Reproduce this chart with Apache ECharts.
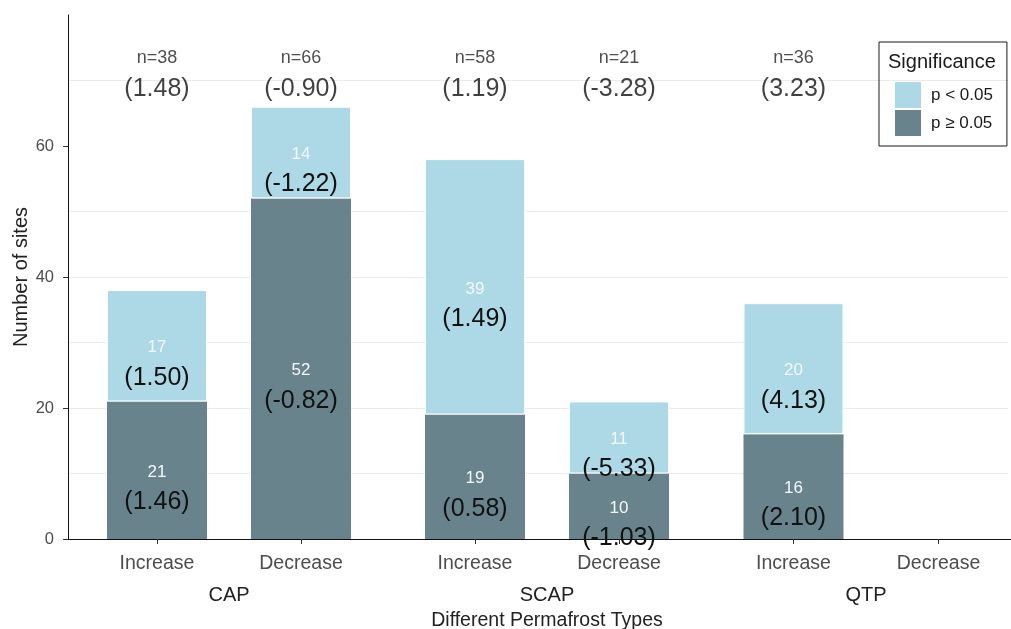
<!DOCTYPE html>
<html>
<head>
<meta charset="utf-8">
<script src="https://cdn.jsdelivr.net/npm/echarts@6/dist/echarts.min.js"></script>
<style>
html,body{margin:0;padding:0;background:#fff;}
#chart{width:1011px;height:629px;}
</style>
</head>
<body>
<div id="chart"></div>
<script>
// ---- data ----
const groups = ['CAP', 'SCAP', 'QTP'];
const directions = ['Increase', 'Decrease'];
const countSig = [[17, 14], [39, 11], [20, null]];      // p < 0.05
const countNonSig = [[21, 52], [19, 10], [16, null]];   // p >= 0.05
const meanSig = [[1.50, -1.22], [1.49, -5.33], [4.13, null]];
const meanNonSig = [[1.46, -0.82], [0.58, -1.03], [2.10, null]];
const totalN = [[38, 66], [58, 21], [36, null]];
const meanAll = [[1.48, -0.90], [1.19, -3.28], [3.23, null]];
const yTicks = [0, 20, 40, 60];
const legendNames = ['p < 0.05', 'p \u2265 0.05'];

// ---- layout / style ----
const FONT = 'Liberation Sans, Arial, sans-serif';
const LIGHT = '#ADD8E6';
const DARK = '#68838B';
const Y_MAX = 80;
const TOP_LABEL_Y = 71;
const TOP = 15, BOTTOM = 90;
const panelLeft = [85, 403, 721];
const panelWidth = [288, 288, 290];

const fmt = v => '(' + v.toFixed(2) + ')';

const grids = [{ left: 68, right: 3, top: TOP, bottom: BOTTOM }];
const xAxes = [{
  gridIndex: 0, type: 'category', data: [''],
  axisLine: { show: true, lineStyle: { color: '#111', width: 1 } },
  axisTick: { show: false }, axisLabel: { show: false }
}];
const yAxes = [{
  gridIndex: 0, type: 'value', min: 0, max: Y_MAX, interval: 20,
  axisLine: { show: true, lineStyle: { color: '#111', width: 1 } },
  axisTick: { show: true, length: 5, lineStyle: { color: '#333' }, customValues: yTicks },
  axisLabel: { customValues: yTicks, fontSize: 16.5, color: '#4d4d4d', margin: 14, fontFamily: FONT },
  splitLine: { show: true, showMaxLine: false, lineStyle: { color: '#ebebeb', width: 1 } },
  minorTick: { show: false, splitNumber: 2 },
  minorSplitLine: { show: true, lineStyle: { color: '#ebebeb', width: 1 } }
}];
const series = [];

groups.forEach((g, gi) => {
  const idx = gi + 1;
  grids.push({ left: panelLeft[gi], width: panelWidth[gi], top: TOP, bottom: BOTTOM });
  xAxes.push({
    gridIndex: idx, type: 'category', data: directions,
    name: g, nameLocation: 'middle', nameGap: 46,
    nameTextStyle: { fontSize: 20, color: '#222', fontFamily: FONT },
    axisLine: { show: true, lineStyle: { color: '#111', width: 1 } },
    axisTick: { show: true, alignWithLabel: true, length: 5, lineStyle: { color: '#333' } },
    axisLabel: { fontSize: 19.5, color: '#4d4d4d', margin: 15, fontFamily: FONT }
  });
  yAxes.push({ gridIndex: idx, type: 'value', min: 0, max: Y_MAX, show: false });

  const segLabel = (counts, means) => ({
    show: true, position: 'inside', offset: [0, 17],
    formatter: p => '{c|' + counts[gi][p.dataIndex] + '}\n{v|' + fmt(means[gi][p.dataIndex]) + '}',
    rich: {
      c: { fontSize: 17, color: '#f4f8fa', lineHeight: 30, fontFamily: FONT },
      v: { fontSize: 25, color: '#111', lineHeight: 30, fontFamily: FONT }
    }
  });

  series.push({
    name: legendNames[1], type: 'bar', stack: 'g' + gi,
    xAxisIndex: idx, yAxisIndex: idx, barWidth: 100,
    data: countNonSig[gi].map(v => v == null ? '-' : v),
    itemStyle: { color: DARK },
    label: segLabel(countNonSig, meanNonSig)
  });
  series.push({
    name: legendNames[0], type: 'bar', stack: 'g' + gi,
    xAxisIndex: idx, yAxisIndex: idx, barWidth: 100,
    data: countSig[gi].map(v => v == null ? '-' : v),
    itemStyle: { color: LIGHT, borderColor: '#fff', borderWidth: 1 },
    label: segLabel(countSig, meanSig)
  });
  series.push({
    type: 'scatter', xAxisIndex: idx, yAxisIndex: idx,
    symbolSize: 1, itemStyle: { color: 'rgba(0,0,0,0)' },
    silent: true,
    data: totalN[gi].map(v => v == null ? '-' : TOP_LABEL_Y),
    label: {
      show: true, position: 'inside',
      formatter: p => '{n|n=' + totalN[gi][p.dataIndex] + '}\n{v|' + fmt(meanAll[gi][p.dataIndex]) + '}',
      rich: {
        n: { fontSize: 18, color: '#222', lineHeight: 31, fontFamily: FONT },
        v: { fontSize: 25, color: '#111', lineHeight: 31, fontFamily: FONT }
      }
    }
  });
});

const chart = echarts.init(document.getElementById('chart'), null, { renderer: 'canvas' });
chart.setOption({
  animation: false,
  backgroundColor: '#fff',
  textStyle: { fontFamily: FONT },
  grid: grids,
  xAxis: xAxes,
  yAxis: yAxes,
  legend: {
    data: legendNames, orient: 'vertical', left: 879, top: 42,
    padding: [40, 14, 10, 16], itemWidth: 26, itemHeight: 26, itemGap: 2,
    icon: 'rect', selectedMode: false,
    borderColor: '#1a1a1a', borderWidth: 1,
    itemStyle: { borderWidth: 0 },
    textStyle: { fontSize: 17, color: '#1a1a1a', padding: [0, 0, 0, 5], fontFamily: FONT }
  },
  graphic: [
    { type: 'text', left: 888, top: 52, style: { text: 'Significance', fontSize: 20, fill: '#1a1a1a', fontFamily: FONT } },
    { type: 'text', x: 21, y: 277, rotation: Math.PI / 2,
      style: { text: 'Number of sites', fontSize: 20, fill: '#222', fontFamily: FONT, align: 'center', verticalAlign: 'middle' } },
    { type: 'text', x: 547, y: 621,
      style: { text: 'Different Permafrost Types', fontSize: 19.5, fill: '#222', fontFamily: FONT, align: 'center', verticalAlign: 'middle' } }
  ],
  series: series
});
</script>
</body>
</html>
